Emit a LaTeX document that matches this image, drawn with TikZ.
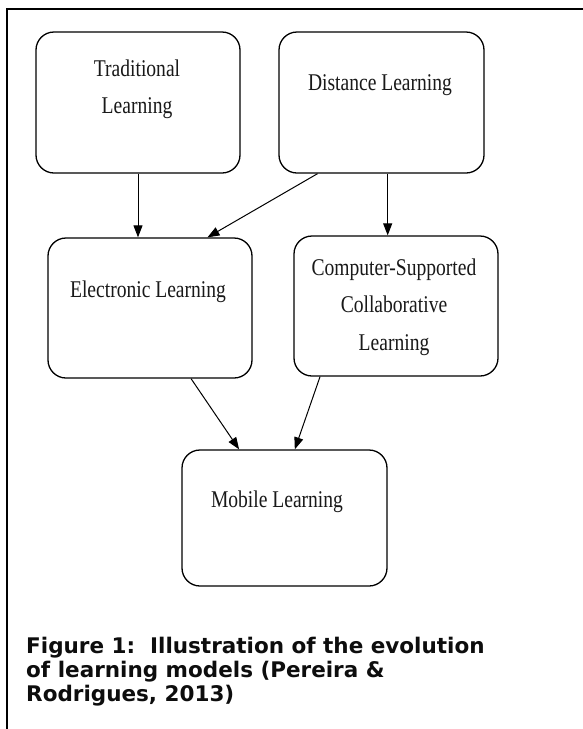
\documentclass[tikz,border=0pt]{standalone}
\usepackage{fontspec}
\setmainfont{Liberation Serif}
\newfontfamily\boxfont[FakeStretch=0.815]{Liberation Serif}
\newfontfamily\capfont{DejaVu Sans}
\usetikzlibrary{arrows.meta,calc}
\begin{document}
\begin{tikzpicture}[x=1pt,y=-1pt,
  box/.style={draw, line width=1.3pt, rounded corners=18pt, inner sep=0pt},
  lbl/.style={font=\boxfont\fontsize{24}{37.5}\selectfont, align=center, inner sep=0pt, anchor=north, text=black!90},
  arr/.style={-{Triangle[length=12pt,width=9pt]}, line width=1pt},
  frame/.style={line width=2pt}]
\useasboundingbox (0,0) rectangle (583,729);
\fill[white] (0,0) rectangle (583,729);
\coordinate (ftl) at (7,9);
\coordinate (fbl) at (7,729);
\coordinate (ftr) at (583,9);
\draw[frame] (fbl) -- (ftl) -- (ftr);

\node[box, minimum width=204pt, minimum height=141pt] (trad) at (138,102.5) {};
\node[box, minimum width=205pt, minimum height=141pt] (dist) at (381.5,102.5) {};
\node[box, minimum width=204pt, minimum height=140pt] (elec) at (150,308) {};
\node[box, minimum width=204pt, minimum height=140pt] (cscl) at (396,306) {};
\node[box, minimum width=205pt, minimum height=136pt] (mob) at (284.5,518) {};

\node[lbl] (tradt) at (137,59.6) {Traditional\\Learning};
\node[lbl] (distt) at (380,74.6) {Distance Learning};
\node[lbl] (elect) at (148,280.6) {Electronic Learning};
\node[lbl] (csclt) at (394,258.6) {Computer-Supported\\Collaborative\\Learning};
\node[lbl] (mobt) at (277,490.6) {Mobile Learning};

\draw[arr] (trad.south) -- (trad.south |- elec.north);
\draw[arr] ($(dist.south west)!0.19!(dist.south east)$) -- ($(elec.north west)!0.78!(elec.north east)$);
\draw[arr] ($(dist.south west)!0.53!(dist.south east)$) coordinate (dc) -- (dc |- cscl.north);
\draw[arr] ($(elec.south west)!0.70!(elec.south east)$) -- ($(mob.north west)!0.28!(mob.north east)$);
\draw[arr] ($(cscl.south west)!0.13!(cscl.south east)$) -- ($(mob.north west)!0.55!(mob.north east)$);

\node[font=\capfont\bfseries\fontsize{21.5}{24}\selectfont, align=left, inner sep=0pt, anchor=north west, text=black!95] (cap) at (26,636.5)
  {Figure 1:\ \ Illustration of the evolution\\of learning models (Pereira \&\\Rodrigues, 2013)};
\end{tikzpicture}
\end{document}
